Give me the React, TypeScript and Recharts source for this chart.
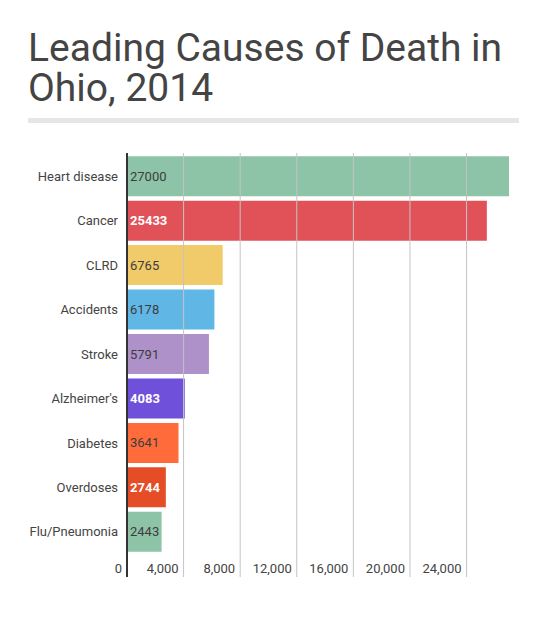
import { Bar, BarChart, Cell, LabelList, XAxis, YAxis } from "recharts";

const causes = [
	"Heart disease",
	"Cancer",
	"CLRD",
	"Accidents",
	"Stroke",
	"Alzheimer's",
	"Diabetes",
	"Overdoses",
	"Flu/Pneumonia",
];
const deaths = [27000, 25433, 6765, 6178, 5791, 4083, 3641, 2744, 2443];
const barColors = [
	"#8dc3a7",
	"#e05258",
	"#f1cb6a",
	"#60b7e6",
	"#ae91c8",
	"#6e50da",
	"#ff6b3b",
	"#e44d25",
	"#8dc3a7",
];
const whiteLabels = ["Cancer", "Alzheimer's", "Overdoses"];
const xTicks = [0, 4000, 8000, 12000, 16000, 20000, 24000];

const chartData = causes.map((name, i) => ({ name, value: deaths[i] }));

const FONT = "Roboto, 'Noto Sans', sans-serif";
const GRID_TOP = 153;
const GRID_BOTTOM = 577;

const XTick = (props: any) => {
	const { x, payload } = props;
	const isZero = payload.value === 0;
	return (
		<g>
			<line
				x1={x}
				x2={x}
				y1={GRID_TOP}
				y2={GRID_BOTTOM}
				stroke={isZero ? "#333" : "#c4c4c4"}
				strokeWidth={isZero ? 2 : 1}
			/>
			<text
				x={x - 5}
				y={573}
				textAnchor="end"
				fontSize={13}
				fontFamily={FONT}
				fill="#444"
			>
				{payload.value.toLocaleString("en-US")}
			</text>
		</g>
	);
};

const ValueLabel = (props: any) => {
	const { x, y, height, value, index } = props;
	const white = whiteLabels.includes(causes[index]);
	return (
		<text
			x={x + 3}
			y={y + height / 2 + 4.5}
			fontSize={13}
			fontFamily={FONT}
			fontWeight={white ? 700 : 400}
			fill={white ? "#fff" : "#3d3d3d"}
		>
			{value}
		</text>
	);
};

const titleStyle = {
	position: "absolute" as const,
	left: 28,
	fontSize: 39,
	lineHeight: "40px",
	height: 40,
	color: "#444",
	whiteSpace: "nowrap" as const,
};

export default function App() {
	return (
		<div
			style={{
				position: "absolute",
				left: 0,
				top: 0,
				width: 547,
				height: 619,
				background: "#fff",
				fontFamily: FONT,
			}}
		>
			<div style={{ ...titleStyle, top: 28 }}>Leading Causes of Death in</div>
			<div style={{ ...titleStyle, top: 68 }}>Ohio, 2014</div>
			<div
				style={{
					position: "absolute",
					left: 28,
					top: 118,
					width: 491,
					height: 5,
					background: "#e6e6e6",
				}}
			/>
			<div style={{ position: "absolute", left: 0, top: 0 }}>
				<BarChart
					width={547}
					height={619}
					data={chartData}
					layout="vertical"
					margin={{ top: 154, right: 38, bottom: 35, left: 0 }}
					barCategoryGap="5%"
				>
					<XAxis
						type="number"
						domain={[0, 27000]}
						ticks={xTicks}
						axisLine={false}
						tickLine={false}
						height={30}
						tick={<XTick />}
						interval={0}
					/>
					<YAxis
						type="category"
						dataKey="name"
						width={127}
						axisLine={false}
						tickLine={false}
						tickMargin={3}
						tick={{ fontSize: 13, fill: "#444", fontFamily: FONT }}
						interval={0}
					/>
					<Bar dataKey="value" isAnimationActive={false}>
						{chartData.map((d, i) => (
							<Cell key={d.name} fill={barColors[i]} />
						))}
						<LabelList dataKey="value" content={<ValueLabel />} />
					</Bar>
				</BarChart>
			</div>
		</div>
	);
}
